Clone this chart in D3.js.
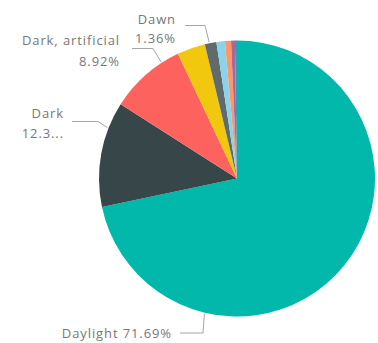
<!DOCTYPE html>
<html>
<head>
<meta charset="utf-8">
<script src="https://cdn.jsdelivr.net/npm/d3@7"></script>
<style>
  body { margin: 0; background: #fff; }
  text { font-family: "Open Sans", "Noto Sans", sans-serif; font-size: 13px; letter-spacing: 0.9px; fill: #777; }
</style>
</head>
<body>
<svg id="chart" width="378" height="343"></svg>
<script>
// slices, clockwise from 12 o'clock
var categories = ["Daylight", "Dark", "Dark, artificial", "Dusk", "Dawn", "Dark, unknown", "Unknown", "Other", "Dark, no light"];
var values = [71.69, 12.34, 8.92, 3.3, 1.36, 1.0, 0.7, 0.45, 0.24];
var colors = ["#01B8AA", "#374649", "#FD625E", "#F2C80F", "#5F6B6D", "#8AD4EB", "#FE9666", "#A66999", "#3599B8"];

// label text as shown (Dark is truncated in the original)
var labelLines = {
  "Daylight": ["Daylight 71.69%"],
  "Dark": ["Dark", "12.3..."],
  "Dark, artificial": ["Dark, artificial", "8.92%"],
  "Dawn": ["Dawn", "1.36%"]
};

var cx = 237, cy = 178.5, radius = 138;

var svg = d3.select("#chart");
var grp = svg.append("g").attr("transform", "translate(" + cx + "," + cy + ")");

var pie = d3.pie().sort(null).value(function (d) { return d.value; });
var arcGen = d3.arc().innerRadius(0).outerRadius(radius);

var data = categories.map(function (c, i) { return { name: c, value: values[i], color: colors[i] }; });
var arcs = pie(data);

grp.selectAll("path.slice")
  .data(arcs)
  .enter()
  .append("path")
  .classed("slice", true)
  .attr("d", arcGen)
  .attr("fill", function (d) { return d.data.color; });

// label layout: where the leader touches the slice, the elbow and the text end (relative to centre)
var labelLayout = {
  "Daylight":         { frac: 0.75, elbow: [-34, 154.5], end: [-57, 154.5], textX: -65, textY: [154.5] },
  "Dark":             { frac: 0.75, elbow: [-139, -57], end: [-165, -57], textX: -173, textY: [-65, -45] },
  "Dark, artificial": { frac: 0.76, elbow: [-84, -130], end: [-105, -130], textX: -117, textY: [-138, -117] },
  "Dawn":             { frac: 0.4, elbow: [-32, -153], end: [-52, -153], textX: -61, textY: [-159, -140] }
};

function pointAt(angle, r) {
  return [Math.sin(angle) * r, -Math.cos(angle) * r];
}

arcs.forEach(function (a) {
  var lay = labelLayout[a.data.name];
  if (!lay) return;
  var ang = a.startAngle + lay.frac * (a.endAngle - a.startAngle);
  var p0 = pointAt(ang, radius + 1);

  grp.append("polyline")
    .attr("points", [p0, lay.elbow, lay.end].map(function (p) { return p.join(","); }).join(" "))
    .attr("fill", "none")
    .attr("stroke", "#a6a6a6")
    .attr("stroke-width", 1);

  labelLines[a.data.name].forEach(function (t, i) {
    grp.append("text")
      .attr("x", lay.textX)
      .attr("y", lay.textY[i])
      .attr("dy", "0.35em")
      .attr("text-anchor", "end")
      .text(t);
  });
});
</script>
</body>
</html>
